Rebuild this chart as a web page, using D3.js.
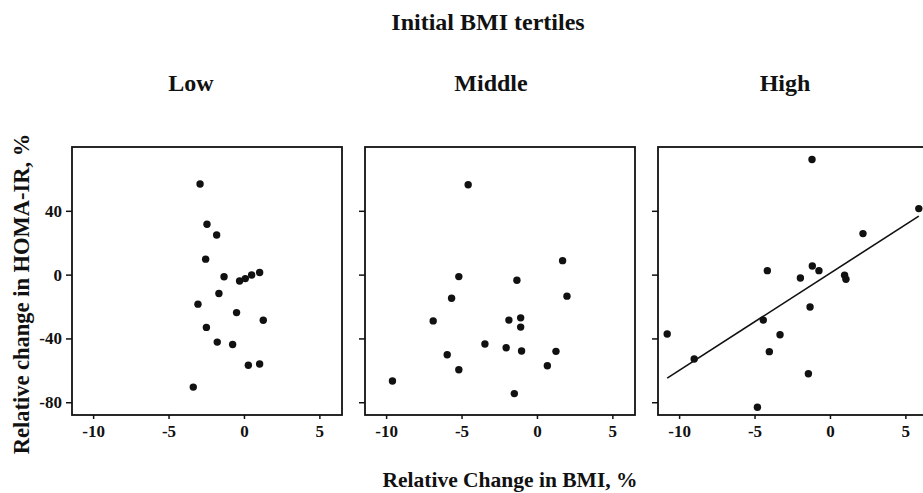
<!DOCTYPE html>
<html>
<head>
<meta charset="utf-8">
<script src="https://cdn.jsdelivr.net/npm/d3@7"></script>
<style>
  body { margin: 0; background: #fff; }
  text { font-family: "Liberation Serif", "DejaVu Serif", serif; font-weight: bold; fill: #111; }
</style>
</head>
<body>
<div class="canvas"></div>
<script>
// values
const panelNames = ['Low', 'Middle', 'High'];
const xTicks = [-10, -5, 0, 5];
const yTicks = [40, 0, -40, -80];

const lowX = [-2.91, -2.45, -1.81, -2.54, -1.32, -0.29, 0.09, 0.51, 1.04, -1.66, -3.05, -0.49, 1.28, -2.49, -1.77, -0.75, 0.29, 1.04, -3.36];
const lowY = [56.8, 31.6, 24.8, 9.7, -1.3, -4.0, -2.5, -0.2, 1.3, -11.8, -18.5, -23.8, -28.6, -33.1, -42.3, -43.8, -56.8, -56.0, -70.5];

const midX = [-4.56, 1.70, -5.18, -1.33, 1.99, -5.66, -6.88, -1.86, -1.08, -1.08, -3.45, -2.04, -1.02, 1.26, -5.95, -5.18, 0.69, -9.58, -1.50];
const midY = [56.3, 8.75, -1.25, -3.5, -13.5, -14.8, -29.0, -28.5, -27.1, -32.9, -43.5, -45.8, -47.9, -48.1, -50.2, -59.6, -57.1, -66.7, -74.6];

const highX = [-1.19, 5.89, 2.19, -4.15, -1.17, -0.73, -1.96, 0.97, 1.06, -1.32, -4.42, -10.79, -3.31, -4.02, -9.0, -1.43, -4.81];
const highY = [72.2, 41.4, 25.7, 2.5, 5.4, 2.5, -2.1, -0.4, -2.9, -20.3, -28.5, -37.2, -37.7, -48.3, -52.9, -62.1, -83.1];

// fitted line in the High panel (only one drawn)
const fitIntercept = 0.8;
const fitSlope = 6.09;
const fitRange = [-10.79, 5.89];

const dims = {width: 923, height: 493};
const panel = {w: 270, top: 147, bottom: 415};
const panelLeft = [72, 365, 658];
const nameShift = [-16, -9, -8]; // panel titles sit a bit left of centre

const seriesX = [lowX, midX, highX];
const seriesY = [lowY, midY, highY];

const svg = d3.select('.canvas')
    .append('svg')
    .attr('width', dims.width)
    .attr('height', dims.height);

const x = d3.scaleLinear().domain([-11.4, 6.5]).range([0, panel.w]);
const y = d3.scaleLinear().domain([-88, 80]).range([panel.bottom, panel.top]);

// titles
svg.append('text')
    .attr('x', 488).attr('y', 30)
    .attr('text-anchor', 'middle')
    .attr('font-size', 24)
    .text('Initial BMI tertiles');

svg.append('text')
    .attr('x', 510).attr('y', 487)
    .attr('text-anchor', 'middle')
    .attr('font-size', 21.5)
    .text('Relative Change in BMI, %');

svg.append('text')
    .attr('transform', 'translate(29,294) rotate(-90)')
    .attr('text-anchor', 'middle')
    .attr('font-size', 22.5)
    .text('Relative change in HOMA-IR, %');

panelNames.forEach((name, i) => {
    const g = svg.append('g')
        .attr('transform', `translate(${panelLeft[i]},0)`);

    g.append('text')
        .attr('x', panel.w / 2 + nameShift[i]).attr('y', 91)
        .attr('text-anchor', 'middle')
        .attr('font-size', 24)
        .text(name);

    // x axis, ticks pointing down
    const xAxis = g.append('g')
        .attr('transform', `translate(0,${panel.bottom})`)
        .call(d3.axisBottom(x).tickValues(xTicks).tickSize(4).tickPadding(6).tickFormat(d => String(d)));
    xAxis.select('.domain').remove();
    xAxis.selectAll('line').attr('stroke', '#111').attr('stroke-width', 1.5);
    xAxis.selectAll('text').attr('font-size', 17).attr('fill', '#111')
        .style('font-family', '"Liberation Serif", serif').style('font-weight', 'bold');

    // y axis, labels only on the first panel
    const yAxis = g.append('g')
        .call(d3.axisLeft(y).tickValues(yTicks).tickSize(6).tickPadding(4)
            .tickFormat(i === 0 ? (d => String(d)) : ''));
    yAxis.select('.domain').remove();
    yAxis.selectAll('line').attr('stroke', '#111').attr('stroke-width', 1.5);
    yAxis.selectAll('text').attr('font-size', 17).attr('fill', '#111')
        .style('font-family', '"Liberation Serif", serif').style('font-weight', 'bold');

    g.append('rect')
        .attr('x', 0).attr('y', panel.top)
        .attr('width', panel.w).attr('height', panel.bottom - panel.top)
        .attr('fill', 'none')
        .attr('stroke', '#111')
        .attr('stroke-width', 1.8);

    const pts = seriesX[i].map((v, k) => ({x: v, y: seriesY[i][k]}));

    if (i === 2) {
        g.append('path')
            .datum(fitRange.map(v => ({x: v, y: fitIntercept + fitSlope * v})))
            .attr('fill', 'none')
            .attr('stroke', '#111')
            .attr('stroke-width', 1.6)
            .attr('d', d3.line().x(d => x(d.x)).y(d => y(d.y)));
    }

    g.selectAll('circle')
        .data(pts)
        .enter()
        .append('circle')
        .attr('cx', d => x(d.x))
        .attr('cy', d => y(d.y))
        .attr('r', 3.7)
        .attr('fill', '#111');
});
</script>
</body>
</html>
